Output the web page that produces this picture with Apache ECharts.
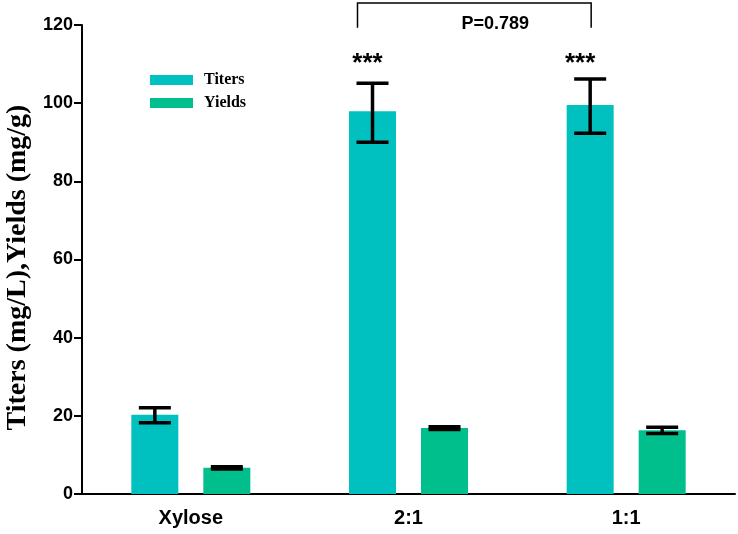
<!DOCTYPE html>
<html><head><meta charset="utf-8">
<script src="https://cdn.jsdelivr.net/npm/echarts@6/dist/echarts.min.js"></script>
<style>html,body{margin:0;padding:0;background:#fff}#c{width:738px;height:534px}</style>
</head><body><div id="c"></div>
<script>
const categories = ['Xylose', '2:1', '1:1'];
const titers = [20.3, 97.9, 99.5];
const titersLow = [18.2, 90.0, 92.3];
const titersHigh = [22.1, 105.1, 106.2];
const yields = [6.7, 16.9, 16.3];
const yieldsLow = [6.4, 16.5, 15.5];
const yieldsHigh = [7.0, 17.2, 17.1];
const yTicks = [0, 20, 40, 60, 80, 100, 120];
const pValue = 'P=0.789';
const stars = ['', '***', '***'];

const barW = 47, gapPx = 25;
const off = (barW + gapPx) / 2;
const chart = echarts.init(document.getElementById('c'));

function errItem(offset) {
  return function (params, api) {
    const i = api.value(0);
    const x = api.coord([i, 0])[0] + offset;
    const yl = api.coord([i, api.value(1)])[1];
    const yh = api.coord([i, api.value(2)])[1];
    const st = { stroke: '#000', lineWidth: 3.5 };
    const cw = 16;
    return { type: 'group', children: [
      { type: 'line', shape: { x1: x, y1: yl, x2: x, y2: yh }, style: st },
      { type: 'line', shape: { x1: x - cw, y1: yl, x2: x + cw, y2: yl }, style: st },
      { type: 'line', shape: { x1: x - cw, y1: yh, x2: x + cw, y2: yh }, style: st }
    ]};
  };
}

chart.setOption({
  animation: false,
  grid: { left: 82, right: 3, top: 25, bottom: 40, containLabel: false, outerBoundsMode: 'none' },
  legend: {
    orient: 'vertical', left: 145, top: 67, itemWidth: 43, itemHeight: 10, itemGap: 7,
    icon: 'rect',
    textStyle: { fontFamily: 'Liberation Serif', fontWeight: 'bold', fontSize: 16, color: '#000', padding: [0, 0, 0, 6] },
    data: ['Titers', 'Yields']
  },
  xAxis: {
    type: 'category', data: categories,
    axisLine: { lineStyle: { color: '#000', width: 2 } },
    axisTick: { show: false },
    axisLabel: { fontFamily: 'Liberation Sans', fontWeight: 'bold', fontSize: 20, color: '#000', margin: 14 }
  },
  yAxis: {
    type: 'value', min: yTicks[0], max: yTicks[yTicks.length - 1], interval: 20,
    name: 'Titers (mg/L),Yields (mg/g)', nameLocation: 'middle', nameGap: 50,
    nameTextStyle: { fontFamily: 'Liberation Serif', fontWeight: 'bold', fontSize: 28, color: '#000', padding: [0, 16, 0, 0] },
    axisLine: { show: true, lineStyle: { color: '#000', width: 2 } },
    axisTick: { show: true, length: 8, lineStyle: { color: '#000', width: 2 } },
    splitLine: { show: false },
    axisLabel: { fontFamily: 'Liberation Sans', fontWeight: 'bold', fontSize: 18, color: '#000', margin: 9 }
  },
  series: [
    { name: 'Titers', type: 'bar', data: titers, barWidth: barW, barGap: (gapPx / barW * 100) + '%', itemStyle: { color: '#00C0C0' } },
    { name: 'Yields', type: 'bar', data: yields, barWidth: barW, itemStyle: { color: '#00BF8C' } },
    { type: 'custom', renderItem: errItem(-off), data: categories.map((c, i) => [i, titersLow[i], titersHigh[i]]), z: 5, clip: false },
    { type: 'custom', renderItem: errItem(off), data: categories.map((c, i) => [i, yieldsLow[i], yieldsHigh[i]]), z: 5, clip: false },
    { type: 'custom', clip: false, z: 6,
      data: categories.map((c, i) => [i, 110, stars[i]]),
      renderItem: function (params, api) {
        const i = api.value(0);
        const p = api.coord([i, api.value(1)]);
        const dx = i === 1 ? -5 : -10;
        return { type: 'text', style: { x: p[0] - off + dx, y: p[1], text: stars[i], fill: '#000',
          font: 'bold 26px "Liberation Sans"', align: 'center', verticalAlign: 'middle' } };
      } },
    { type: 'custom', clip: false, z: 6,
      data: [[1, 2, 125.6, 119.3, 120.3]],
      renderItem: function (params, api) {
        const a = api.coord([api.value(0), api.value(2)]);
        const b = api.coord([api.value(1), api.value(3)]);
        const x1 = a[0] - off - 15, x2 = b[0] - off + 1, yT = a[1], yB = b[1];
        const ty = api.coord([1, api.value(4)])[1];
        return { type: 'group', children: [
          { type: 'polyline', shape: { points: [[x1, yB], [x1, yT], [x2, yT], [x2, yB]] }, style: { stroke: '#000', lineWidth: 1.5, fill: null } },
          { type: 'text', style: { x: (x1 + x2) / 2 + 21, y: ty, text: pValue, fill: '#000',
            font: 'bold 18px "Liberation Sans"', align: 'center', verticalAlign: 'middle' } }
        ]};
      } }
  ]
});
</script></body></html>
